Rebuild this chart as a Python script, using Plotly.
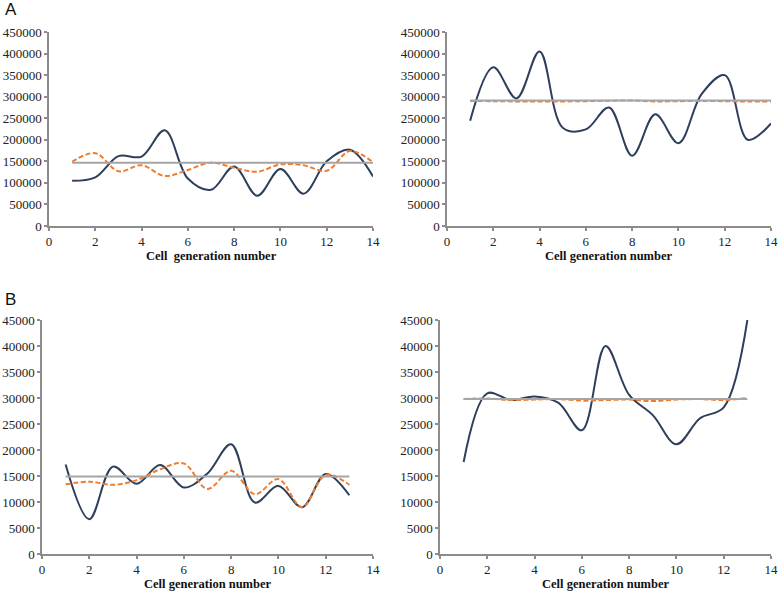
import plotly.graph_objects as go

# cell generation numbers
gen_a = list(range(1, 15))
gen_b = list(range(1, 14))

# panel A, left
a1_observed = [105000, 113000, 162000, 161000, 222000, 110000, 84000,
               138000, 70000, 132000, 75000, 150000, 177000, 115000]
a1_model = [149000, 169000, 127000, 141000, 116000, 130000, 147000,
            135000, 126000, 143000, 141000, 128000, 174000, 148000]
a1_mean = 147000

# panel A, right
a2_observed = [244000, 368000, 296000, 405000, 228000, 224000, 275000,
               163000, 259000, 192000, 306000, 350000, 200000, 238000]
a2_model = [290000, 289500, 289000, 289000, 289000, 289500, 290500,
            291000, 289000, 289500, 290000, 289500, 288500, 289000]
a2_mean = 291000

# panel B, left
b1_observed = [17200, 6700, 16800, 13500, 17100, 12800, 15500,
               21100, 9900, 13100, 9000, 15400, 11300]
b1_model = [13400, 13900, 13300, 14200, 16300, 17400, 12500,
            16000, 11500, 14400, 9000, 15200, 13300]
b1_mean = 14900

# panel B, right
b2_observed = [17700, 30900, 29600, 30300, 29100, 23800, 40000,
               30600, 26700, 21100, 26100, 28200, 45000]
b2_model = [29800, 29900, 29600, 29700, 29800, 29500, 29600,
            29700, 29400, 29700, 29800, 29600, 30000]
b2_mean = 29800

x_ticks = [0, 2, 4, 6, 8, 10, 12, 14]
ticks_a = [0, 50000, 100000, 150000, 200000, 250000, 300000, 350000, 400000, 450000]
ticks_b = [0, 5000, 10000, 15000, 20000, 25000, 30000, 35000, 40000, 45000]

W, H = 778, 592
DARK = "#2E3F5C"
ORANGE = "#ED7D31"
GRAY = "#A5A5A5"
AXIS = "#8C8C8C"
SERIF = "Liberation Serif"

# (x0, x1, y_bottom, y_top) in pixels for each plot area
panels = [
    dict(box=(49, 373, 226, 32), x=gen_a, obs=a1_observed, mod=a1_model, mean=a1_mean,
         ticks=ticks_a, title="Cell\u00a0 generation number", ty=256),
    dict(box=(447, 771, 226, 32), x=gen_a, obs=a2_observed, mod=a2_model, mean=a2_mean,
         ticks=ticks_a, title="Cell generation number", ty=256),
    dict(box=(42, 373, 554, 320), x=gen_b, obs=b1_observed, mod=b1_model, mean=b1_mean,
         ticks=ticks_b, title="Cell generation number", ty=584),
    dict(box=(440, 771, 554, 320), x=gen_b, obs=b2_observed, mod=b2_model, mean=b2_mean,
         ticks=ticks_b, title="Cell generation number", ty=584),
]

fig = go.Figure()
annotations = []

for i, p in enumerate(panels, start=1):
    sx = "" if i == 1 else str(i)
    x0, x1, yb, yt = p["box"]
    xs = p["x"]

    fig.add_trace(go.Scatter(
        x=xs, y=p["obs"], mode="lines", line=dict(color=DARK, width=2, shape="spline", smoothing=1.0),
        xaxis="x" + sx, yaxis="y" + sx, showlegend=False))
    fig.add_trace(go.Scatter(
        x=xs, y=p["mod"], mode="lines",
        line=dict(color=ORANGE, width=2, dash="5px,2.5px", shape="spline", smoothing=1.0),
        xaxis="x" + sx, yaxis="y" + sx, showlegend=False))
    fig.add_trace(go.Scatter(
        x=[xs[0], xs[-1]], y=[p["mean"], p["mean"]], mode="lines",
        line=dict(color=GRAY, width=2),
        xaxis="x" + sx, yaxis="y" + sx, showlegend=False))

    axis_common = dict(
        showline=True, linecolor=AXIS, linewidth=1.5, showgrid=False, zeroline=False,
        ticks="outside", ticklen=3, tickcolor=AXIS, tickwidth=1.5, automargin=False,
        tickfont=dict(family=SERIF, size=13, color="#222222"),
    )
    fig.layout["xaxis" + sx] = dict(
        axis_common, domain=[x0 / W, x1 / W], range=[0, 14],
        tickvals=x_ticks, ticktext=[str(v) for v in x_ticks], anchor="y" + sx)
    fig.layout["yaxis" + sx] = dict(
        axis_common, domain=[1 - yb / H, 1 - yt / H], range=[0, p["ticks"][-1]],
        tickvals=p["ticks"], ticktext=[str(v) for v in p["ticks"]], anchor="x" + sx)

    annotations.append(dict(
        text="<b>" + p["title"] + "</b>", x=(x0 + x1) / 2 / W, y=1 - p["ty"] / H,
        xref="paper", yref="paper", showarrow=False, xanchor="center", yanchor="middle",
        font=dict(family=SERIF, size=12.5, color="#111111")))

# panel letters
for letter, py in [("A", 10), ("B", 299)]:
    annotations.append(dict(
        text=letter, x=3 / W, y=1 - py / H, xref="paper", yref="paper", showarrow=False,
        xanchor="left", yanchor="middle",
        font=dict(family="Liberation Sans", size=17, color="#111111")))

fig.update_layout(
    width=W, height=H,
    margin=dict(l=0, r=0, t=0, b=0, pad=0),
    paper_bgcolor="white", plot_bgcolor="white",
    annotations=annotations,
)

# the page body has a default 8px margin; drop it so the figure fills the window
fig.write_html("out.html", config={"displayModeBar": False},
               post_script="document.body.style.margin = '0';")
